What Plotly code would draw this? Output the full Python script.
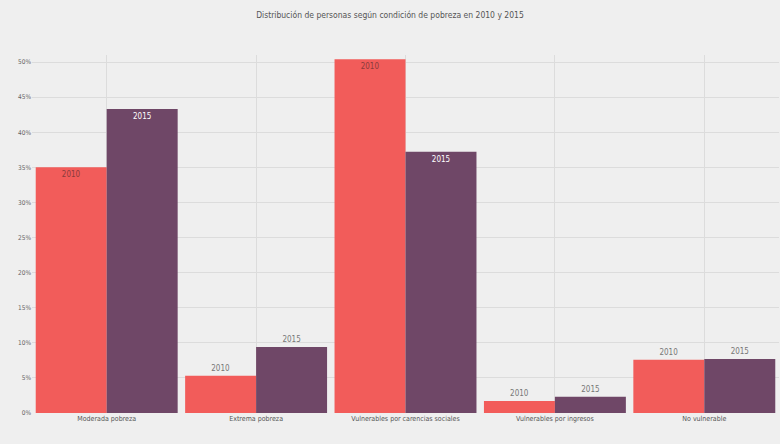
import plotly.graph_objects as go

categories = ["Moderada pobreza", "Extrema pobreza", "Vulnerables por carencias sociales",
              "Vulnerables por ingresos", "No vulnerable"]
values_2010 = [35.0, 5.3, 50.4, 1.7, 7.6]
values_2015 = [43.3, 9.4, 37.2, 2.3, 7.7]
series_names = ["2010", "2015"]
tick_vals = [0, 5, 10, 15, 20, 25, 30, 35, 40, 45, 50]
tick_text = ["0%", "5%", "10%", "15%", "20%", "25%", "30%", "35%", "40%", "45%", "50%"]

colors = ["#f25c5a", "#6f4767"]
inside_colors = ["#8a3b3b", "#ffffff"]
FONT = "DejaVu Sans Condensed, Liberation Sans Narrow, Roboto Condensed, sans-serif"

fig = go.Figure()
for name, vals, col, icol in zip(series_names, [values_2010, values_2015], colors, inside_colors):
    pos = ["inside" if v > 20 else "outside" for v in vals]
    fcol = [icol if v > 20 else "#777777" for v in vals]
    fig.add_trace(go.Bar(
        x=categories, y=vals, name=name,
        marker=dict(color=col, line=dict(width=0)),
        text=[name] * len(vals),
        textposition=pos,
        insidetextanchor="end",
        textfont=dict(size=8, color=fcol, family=FONT),
        constraintext="none",
        cliponaxis=False,
        hoverinfo="x+y",
    ))

fig.update_layout(
    width=780, height=444,
    barmode="group", bargap=0.05, bargroupgap=0,
    paper_bgcolor="#efefef", plot_bgcolor="#efefef",
    showlegend=False,
    margin=dict(l=32, r=1, t=55, b=31),
    title=dict(text="Distribución de personas según condición de pobreza en 2010 y 2015",
               x=0.5, xanchor="center", y=0.966, yanchor="middle",
               font=dict(size=8.5, color="#555555", family=FONT)),
    font=dict(family=FONT, color="#666666"),
    uniformtext=dict(minsize=8, mode="show"),
)
fig.update_xaxes(showgrid=True, gridcolor="#dcdcdc", gridwidth=1,
                 tickfont=dict(size=7, color="#555555"), ticks="", showline=False)
fig.update_yaxes(range=[0, 51], tickvals=tick_vals, ticktext=tick_text,
                 showgrid=True, gridcolor="#dcdcdc", gridwidth=1, zeroline=False,
                 tickfont=dict(size=6.5, color="#666666"), ticks="")

fig.write_html("out.html",
               config={"displayModeBar": False},
               post_script="document.body.style.margin='0';document.body.style.background='#efefef';")
